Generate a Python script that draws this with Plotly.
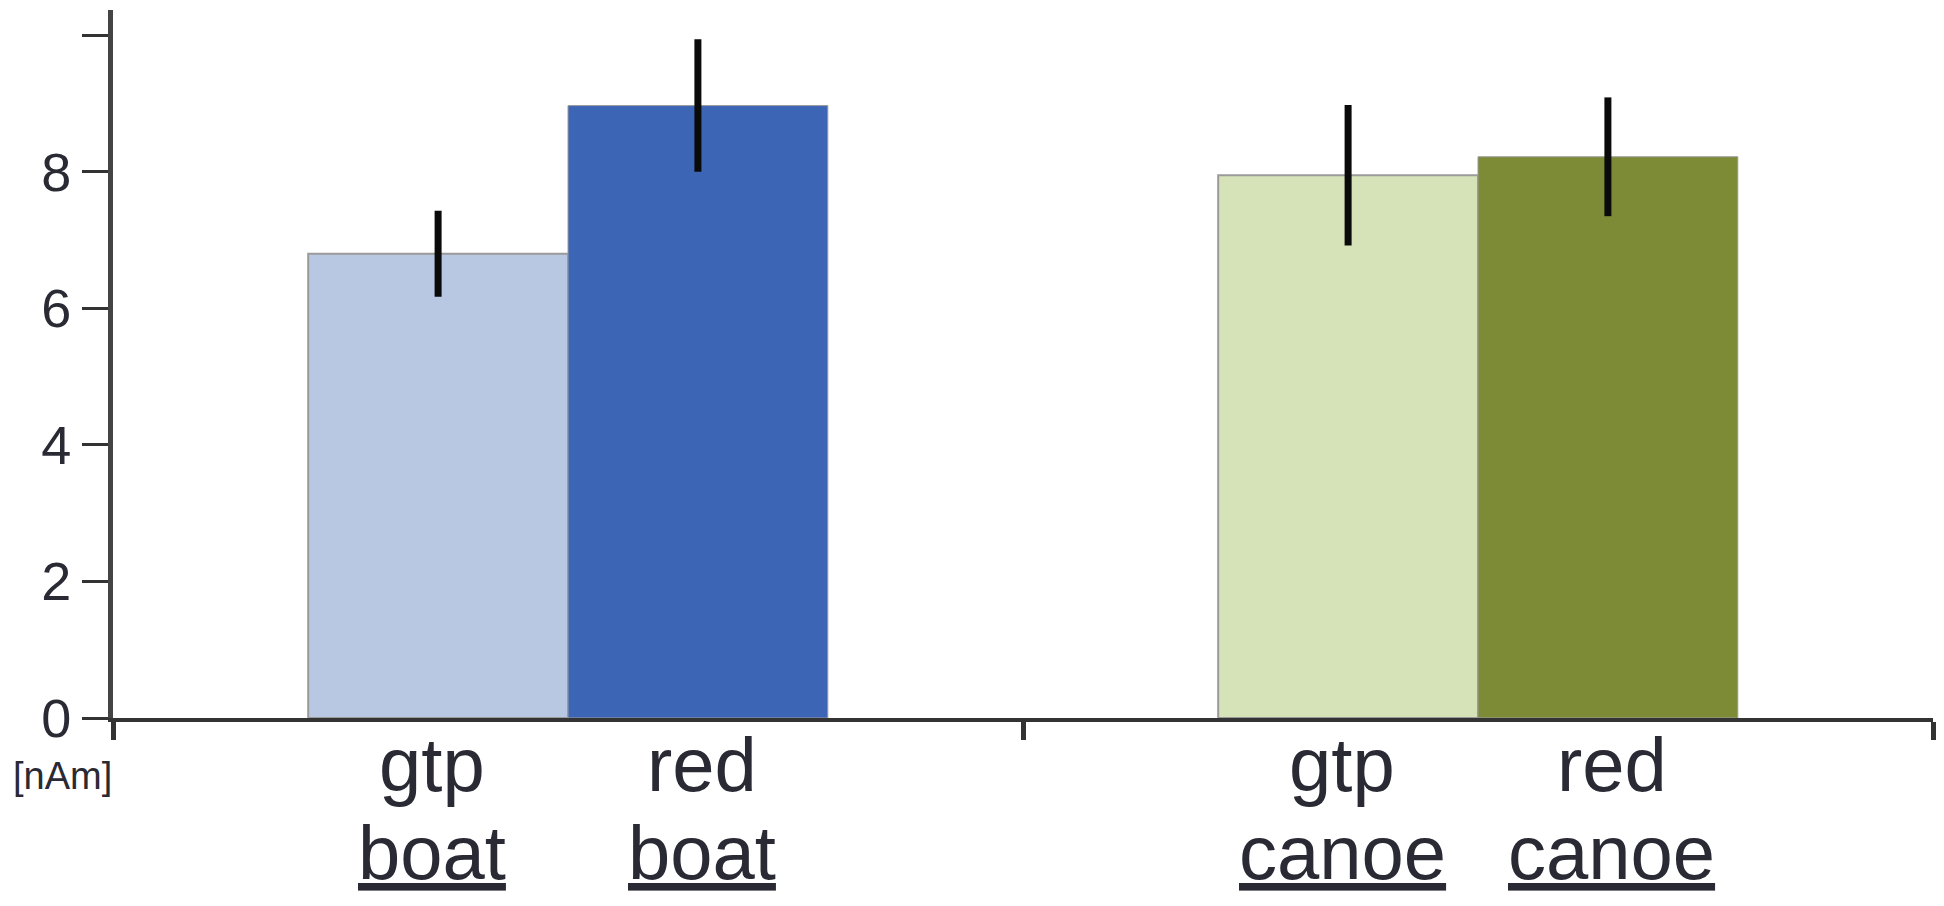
import plotly.graph_objects as go

# ---- data ----
groups = ["boat", "canoe"]
conditions = ["gtp", "red"]
gtp_values = [6.8, 7.95]
red_values = [8.97, 8.22]
gtp_errors = [0.63, 1.03]
red_errors = [0.97, 0.87]
gtp_colors = ["#b8c8e2", "#d6e2b8"]
red_colors = ["#3d65b5", "#7d8b36"]
y_tickvals = [0, 2, 4, 6, 8, 10]
y_ticktext = ["0", "2", "4", "6", "8", ""]
unit_label = "[nAm]"

BARGAP = 0.429
FONT = "Liberation Sans, Arial, sans-serif"
TEXT_COLOR = "#2a2a35"
LABEL_XSHIFT = {"gtp": -6, "red": 4}

fig = go.Figure()
fig.add_trace(go.Bar(
    x=groups, y=gtp_values, name="gtp",
    marker=dict(color=gtp_colors, line=dict(color="#9a9a9a", width=2)),
    error_y=dict(type="data", array=gtp_errors, color="#0a0a0a", thickness=7, width=0),
))
fig.add_trace(go.Bar(
    x=groups, y=red_values, name="red",
    marker=dict(color=red_colors, line=dict(color="#9a9a9a", width=1)),
    error_y=dict(type="data", array=red_errors, color="#0a0a0a", thickness=7, width=0),
))

# per-bar labels
bar_w = (1 - BARGAP) / len(conditions)
for gi, g in enumerate(groups):
    for ci, c in enumerate(conditions):
        xpos = gi - (1 - BARGAP) / 2 + bar_w * (ci + 0.5)
        fig.add_annotation(x=xpos, y=0, xref="x", yref="y", text=c,
                           showarrow=False, yanchor="middle", yshift=-46,
                           xshift=LABEL_XSHIFT[c],
                           font=dict(family=FONT, size=76, color=TEXT_COLOR))
        fig.add_annotation(x=xpos, y=0, xref="x", yref="y", text="<u>" + g + "</u>",
                           showarrow=False, yanchor="middle", yshift=-134,
                           xshift=LABEL_XSHIFT[c],
                           font=dict(family=FONT, size=76, color=TEXT_COLOR))

fig.add_annotation(x=-0.028, y=-0.082, xref="paper", yref="paper", text=unit_label,
                   showarrow=False, xanchor="center", yanchor="middle",
                   font=dict(family=FONT, size=38, color=TEXT_COLOR))

fig.update_layout(
    width=1936, height=898,
    margin=dict(l=105, r=11, t=2, b=188),
    paper_bgcolor="white", plot_bgcolor="white",
    barmode="group", bargap=BARGAP, bargroupgap=0,
    showlegend=False,
    font=dict(family=FONT, color=TEXT_COLOR),
)
fig.update_xaxes(
    range=[-0.5, 1.5], showline=True, linecolor="#333333", linewidth=4,
    ticks="outside", tickson="boundaries", ticklen=18, tickwidth=5, tickcolor="#333333",
    showticklabels=False, showgrid=False, zeroline=False,
)
fig.update_yaxes(
    range=[0, 10.37], showline=True, linecolor="#444444", linewidth=5,
    tickvals=y_tickvals, ticktext=y_ticktext,
    ticks="outside", ticklen=26, tickwidth=3, tickcolor="#333333",
    tickfont=dict(family=FONT, size=54, color=TEXT_COLOR),
    ticklabelstandoff=0,
    showgrid=False, zeroline=False,
)

fig.write_html("out.html")
